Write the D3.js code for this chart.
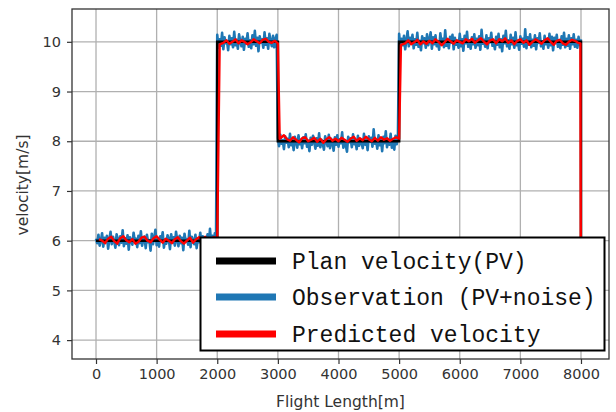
<!DOCTYPE html>
<html><head><meta charset="utf-8">
<script src="https://cdn.jsdelivr.net/npm/d3@7"></script>
<style>body{margin:0;background:#fff;}svg{display:block;}</style>
</head><body>
<svg id="chart" width="616" height="412"></svg>
<script>
// ---- data ----
const xTicks = [0,1000,2000,3000,4000,5000,6000,7000,8000];
const yTicks = [4,5,6,7,8,9,10];
const planX = [0,2000,2000,3000,3000,5000,5000,8000,8000];
const planY = [6,6,10,10,8,8,10,10,4];
const obsStart = 0, obsStep = 20;
const obsY = [
6.04,5.95,6.12,5.90,6.00,6.15,5.88,6.06,5.97,6.10,
5.84,6.02,6.18,5.93,6.08,5.99,5.86,6.13,6.03,5.91,
6.09,5.96,6.21,5.89,6.05,5.94,6.11,5.82,6.07,6.00,
5.92,6.16,5.98,6.04,5.87,6.10,5.95,6.19,5.90,6.03,
6.08,5.85,6.12,5.97,6.01,5.80,6.14,5.93,6.06,6.22,
5.91,6.05,5.88,6.09,5.99,6.17,5.86,6.02,5.94,6.11,
6.04,5.83,6.13,5.96,6.07,5.90,6.18,6.00,5.89,6.10,
5.95,6.06,5.81,6.14,5.98,6.03,5.92,6.20,5.87,6.08,
6.01,5.93,6.12,5.85,6.05,5.97,6.16,5.90,6.09,5.79,
6.07,5.96,6.13,5.88,6.24,5.94,6.10,5.86,6.15,6.02,
10.14,9.88,10.05,9.92,10.18,9.85,10.09,9.97,10.02,9.83,
10.12,9.95,10.07,9.89,10.20,9.93,10.04,9.86,10.15,10.00,
9.91,10.10,9.84,10.06,9.96,10.17,9.90,10.03,9.87,10.13,
9.95,10.22,9.92,10.08,9.81,10.11,9.98,10.05,9.88,10.19,
9.94,10.07,9.86,10.16,10.01,9.91,10.12,9.89,10.06,10.14,
8.06,7.90,8.13,7.95,8.02,7.84,8.10,7.97,8.05,7.88,
8.15,7.92,8.04,7.82,8.09,7.99,7.87,8.12,7.94,8.03,
7.86,8.08,7.96,8.14,7.89,8.01,7.80,8.07,7.93,8.11,
7.98,7.85,8.06,7.91,8.16,7.88,8.03,7.95,7.83,8.10,
8.00,7.90,8.13,7.86,8.05,7.97,7.81,8.08,7.93,8.12,
7.89,8.04,7.96,8.18,7.87,8.02,7.92,7.79,8.09,7.98,
8.06,7.88,8.14,7.94,8.01,7.84,8.11,7.91,8.05,7.97,
7.86,8.15,7.93,8.03,7.82,8.10,7.99,8.07,7.89,8.24,
7.95,8.02,7.85,8.12,7.92,8.06,7.80,8.09,7.96,8.20,
7.88,8.04,7.93,8.15,7.87,8.01,7.83,8.11,7.94,8.08,
10.16,9.89,10.06,9.93,10.12,9.85,10.03,10.21,9.91,10.08,
9.96,10.14,9.87,10.05,9.94,10.18,9.90,10.02,9.83,10.11,
9.97,10.07,9.88,10.15,9.93,10.04,10.19,9.86,10.09,9.95,
10.13,9.91,10.01,9.84,10.17,9.96,10.06,9.89,10.23,9.92,
10.04,9.87,10.10,9.98,10.14,9.85,10.08,9.94,10.02,9.88,
10.16,9.91,10.05,9.82,10.12,9.97,10.20,9.90,10.03,9.86,
10.09,9.95,10.15,9.88,10.06,9.93,10.11,9.84,10.24,9.96,
10.04,9.90,10.13,9.87,10.07,9.99,10.18,9.92,10.01,9.85,
10.10,9.94,10.16,9.89,10.05,9.81,10.12,9.97,10.22,9.91,
10.03,9.86,10.14,9.95,10.08,9.88,10.19,9.93,10.02,9.84,
10.11,9.96,10.06,9.90,10.25,9.87,10.09,9.94,10.15,9.89,
10.04,9.92,10.13,9.85,10.07,9.98,10.17,9.91,10.01,9.86,
10.12,9.95,10.05,9.88,10.16,9.93,10.10,9.83,10.08,9.97,
10.14,9.90,10.03,9.87,10.11,9.94,10.18,9.89,10.06,9.92,
10.13,9.86,10.07,9.95,10.15,9.90,10.04,9.88,10.10,9.93,
10.05
];
const predX = [
50,100,150,200,250,300,350,400,450,500,550,600,650,700,750,800,850,900,950,1000,
1050,1100,1150,1200,1250,1300,1350,1400,1450,1500,1550,1600,1650,1700,1750,1800,1850,1900,1950,2000,
2040,2100,2150,2200,2250,2300,2350,2400,2450,2500,2550,2600,2650,2700,2750,2800,2850,2900,2950,3000,
3030,3100,3150,3200,3250,3300,3350,3400,3450,3500,3550,3600,3650,3700,3750,3800,3850,3900,3950,4000,
4050,4100,4150,4200,4250,4300,4350,4400,4450,4500,4550,4600,4650,4700,4750,4800,4850,4900,4950,5000,
5030,5100,5150,5200,5250,5300,5350,5400,5450,5500,5550,5600,5650,5700,5750,5800,5850,5900,5950,6000,
6050,6100,6150,6200,6250,6300,6350,6400,6450,6500,6550,6600,6650,6700,6750,6800,6850,6900,6950,7000,
7050,7100,7150,7200,7250,7300,7350,7400,7450,7500,7550,7600,7650,7700,7750,7800,7850,7900,7950,7990,8000
];
const predY = [
6.03,6.00,5.95,6.04,6.08,5.99,5.94,6.05,6.09,6.01,5.97,6.03,5.94,5.98,6.06,6.08,6.00,5.97,6.05,6.09,
6.02,5.96,6.04,6.00,5.95,6.03,6.07,5.99,5.94,6.00,6.06,5.96,6.03,6.07,6.00,6.08,5.97,6.04,6.07,6.03,
9.95,9.98,10.03,9.96,10.00,10.05,9.97,10.03,10.00,9.95,9.99,10.05,10.01,9.97,10.04,10.06,10.00,9.98,10.02,9.97,
8.05,8.12,8.04,8.01,8.08,8.03,7.98,8.06,8.08,8.00,8.03,8.07,7.99,8.05,7.97,8.04,8.08,8.01,8.05,8.00,
8.07,8.03,7.99,8.05,8.09,8.01,8.06,8.02,8.09,8.04,8.00,8.07,8.01,8.08,8.03,8.06,8.01,8.05,8.08,8.05,
9.94,9.97,10.03,9.95,9.99,10.04,9.95,10.01,9.96,10.02,9.97,10.05,10.00,9.93,9.99,10.06,10.01,9.96,10.03,10.00,
9.97,10.05,10.01,10.06,9.98,10.03,10.07,10.00,9.95,10.03,10.05,9.97,10.05,10.01,10.07,9.98,10.03,9.95,10.02,10.05,
9.98,10.03,9.94,10.00,10.05,10.01,9.96,10.03,10.07,10.00,9.94,10.02,10.04,9.97,9.94,10.00,10.04,10.02,9.98,9.97,3.95
];
const legendLabels = ["Plan velocity(PV)","Observation (PV+noise)","Predicted velocity"];
const legendColors = ["#000000","#1f77b4","#ff0000"];

// ---- layout ----
const svg = d3.select("#chart");
const L = 72, R = 609, T = 9, B = 359;
const x = d3.scaleLinear().domain([-396, 8462]).range([L, R]);
const y = d3.scaleLinear().domain([3.62, 10.66]).range([B, T]);

const g = svg.append("g");
g.selectAll(".gx").data(xTicks).join("line")
  .attr("x1", d=>x(d)).attr("x2", d=>x(d)).attr("y1", T).attr("y2", B)
  .attr("stroke", "#b0b0b0").attr("stroke-width", 1.3);
g.selectAll(".gy").data(yTicks).join("line")
  .attr("y1", d=>y(d)).attr("y2", d=>y(d)).attr("x1", L).attr("x2", R)
  .attr("stroke", "#b0b0b0").attr("stroke-width", 1.3);

svg.append("clipPath").attr("id","clp").append("rect")
  .attr("x", L).attr("y", T).attr("width", R-L).attr("height", B-T);
const lines = svg.append("g").attr("clip-path","url(#clp)");
const line = d3.line().x(d=>x(d[0])).y(d=>y(d[1]));

const obsData = obsY.map((v,i)=>[obsStart + i*obsStep, v]);
lines.append("path").datum(obsData).attr("d", line)
  .attr("fill","none").attr("stroke","#1f77b4").attr("stroke-width",2.6).attr("stroke-linejoin","round");
lines.append("path").datum(planX.map((v,i)=>[v, planY[i]])).attr("d", line)
  .attr("fill","none").attr("stroke","#000").attr("stroke-width",2.6);
lines.append("path").datum(predX.map((v,i)=>[v, predY[i]])).attr("d", line)
  .attr("fill","none").attr("stroke","#ff0000").attr("stroke-width",2.4).attr("stroke-linejoin","round");

// axes
const fontAxis = "DejaVu Sans, sans-serif";
const xAxis = d3.axisBottom(x).tickValues(xTicks).tickSize(5).tickPadding(5).tickFormat(d3.format("d"));
const yAxis = d3.axisLeft(y).tickValues(yTicks).tickSize(5).tickPadding(6).tickFormat(d3.format("d"));
const gx = svg.append("g").attr("transform", `translate(0,${B})`).call(xAxis);
const gy = svg.append("g").attr("transform", `translate(${L},0)`).call(yAxis);
[gx, gy].forEach(a => {
  a.select(".domain").remove();
  a.selectAll(".tick line").attr("stroke","#333").attr("stroke-width",1.2);
  a.selectAll(".tick text").attr("fill","#333").style("font-family",fontAxis).style("font-size","14.5px");
});
svg.append("rect").attr("x", L).attr("y", T).attr("width", R-L).attr("height", B-T)
  .attr("fill","none").attr("stroke","#333").attr("stroke-width",1.3);

svg.append("text").attr("x", (L+R)/2).attr("y", 407).attr("text-anchor","middle")
  .style("font-family",fontAxis).style("font-size","15.5px").attr("fill","#333").text("Flight Length[m]");
svg.append("text").attr("transform", `translate(28,${(T+B)/2+1}) rotate(-90)`).attr("text-anchor","middle")
  .style("font-family",fontAxis).style("font-size","15.5px").attr("fill","#333").text("velocity[m/s]");

// legend
const lg = svg.append("g");
lg.append("rect").attr("x",200.5).attr("y",237.5).attr("width",404).attr("height",113)
  .attr("fill","#fff").attr("stroke","#000").attr("stroke-width",2);
const rows = [261, 297, 334];
legendLabels.forEach((t,i)=>{
  lg.append("line").attr("x1",216).attr("x2",276).attr("y1",rows[i]).attr("y2",rows[i])
    .attr("stroke",legendColors[i]).attr("stroke-width",7);
  lg.append("text").attr("x",292).attr("y",rows[i]+8)
    .style("font-family","Liberation Mono, monospace").style("font-size","23px").attr("fill","#111").text(t);
});
</script>
</body></html>
